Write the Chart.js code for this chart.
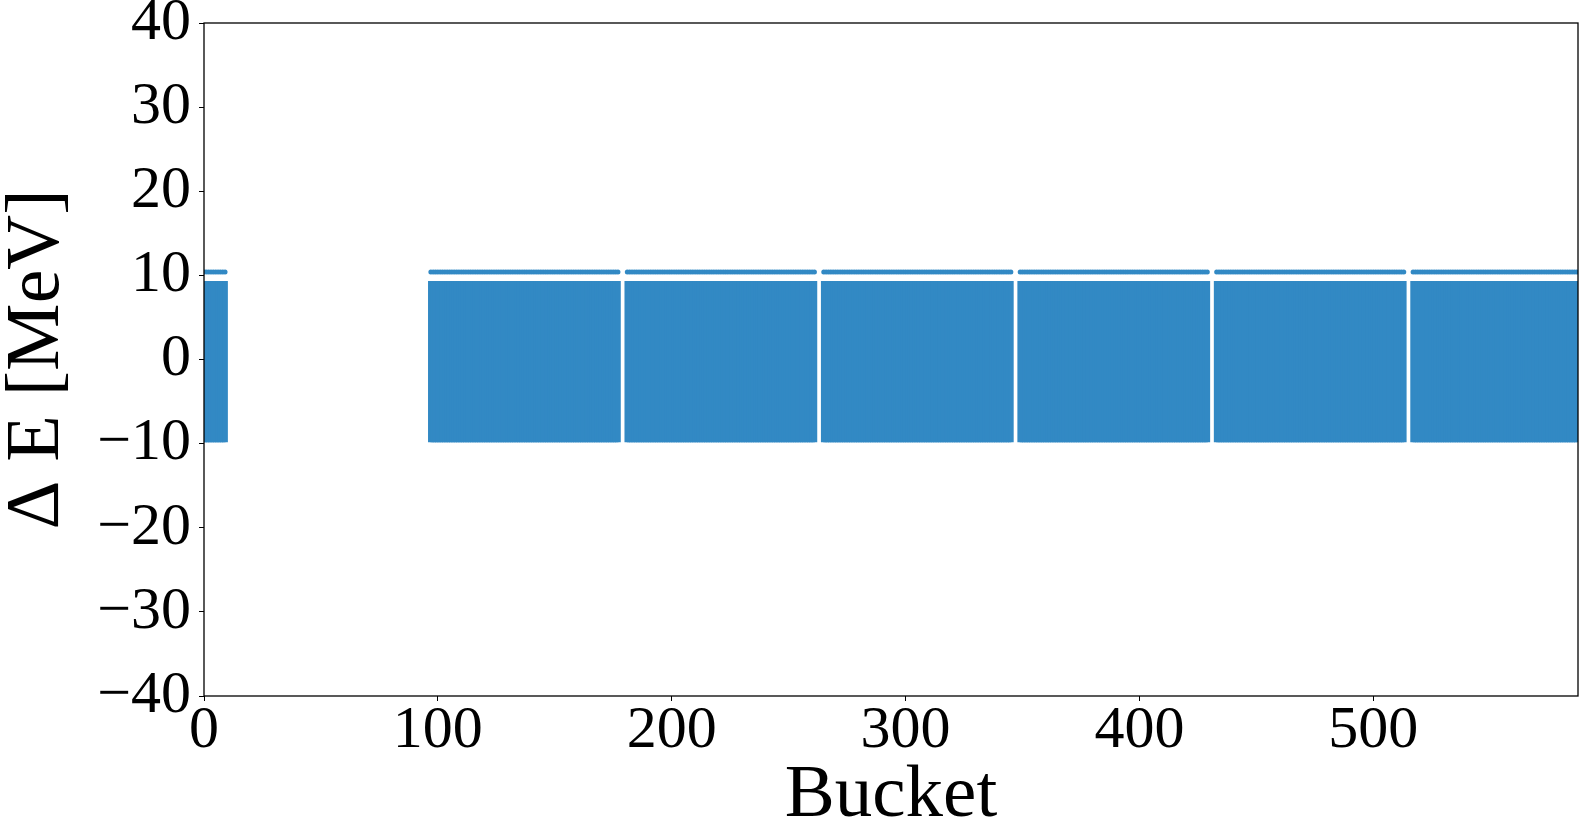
<!DOCTYPE html>
<html>
<head>
<meta charset="utf-8">
<script src="https://cdn.jsdelivr.net/npm/chart.js@4.4.1/dist/chart.umd.min.js"></script>
<style>
  html, body { margin: 0; padding: 0; background: #ffffff; }
  #wrap { width: 1582px; height: 827px; position: relative; }
</style>
</head>
<body>
<div id="wrap"><canvas id="chart"></canvas></div>
<script>
// Filled bucket trains: first and last bucket of each train
const blockFirst = [0, 97, 181, 265, 349, 433, 517];
const blockLast  = [9, 177, 261, 345, 429, 513, 587];
// Energy spread envelope of each train [MeV]
const blockLow   = [-9.8, -9.8, -9.8, -9.8, -9.8, -9.8, -9.8];
const blockHigh  = [9.3, 9.3, 9.3, 9.3, 9.3, 9.3, 9.3];
// Separate offset line seen above the main spread [MeV]
const bandE      = [10.4, 10.4, 10.4, 10.4, 10.4, 10.4, 10.4];

// Axis limits and tick labels
const xMin = 0, xMax = 587.5, xStep = 100;
const yMin = -40, yMax = 40, yStep = 10;

const BLUE = '#3289c4';
const FONT = "'Liberation Serif', 'Times New Roman', serif";

// One floating bar per filled bucket for the spread, one point per bucket for the offset line
const spreadData = [];
const bandData = [];
blockFirst.forEach((first, i) => {
  for (let b = first; b <= blockLast[i]; b++) {
    spreadData.push({ x: b, y: [blockLow[i], blockHigh[i]] });
    bandData.push({ x: b, y: bandE[i] });
  }
});

// Closed box around the plotting area
const frame = {
  id: 'frame',
  afterDatasetsDraw(chart) {
    const { ctx, chartArea: a } = chart;
    ctx.save();
    ctx.strokeStyle = '#000';
    ctx.lineWidth = 1.3;
    ctx.strokeRect(a.left, a.top, a.right - a.left, a.bottom - a.top);
    ctx.restore();
  }
};

const minus = v => String(v).replace('-', '\u2212');

new Chart(document.getElementById('chart'), {
  type: 'scatter',
  data: {
    datasets: [
      {
        type: 'bar',
        data: spreadData,
        backgroundColor: BLUE,
        borderWidth: 0,
        barThickness: 5,
        clip: 0
      },
      {
        type: 'scatter',
        data: bandData,
        backgroundColor: BLUE,
        borderWidth: 0,
        pointRadius: 2.5,
        clip: 0
      }
    ]
  },
  options: {
    responsive: true,
    maintainAspectRatio: false,
    animation: false,
    events: [],
    layout: { padding: { top: 21, right: 1, left: 0, bottom: 0 } },
    plugins: { legend: { display: false }, tooltip: { enabled: false } },
    scales: {
      x: {
        type: 'linear',
        min: xMin, max: xMax,
        offset: false,
        grid: { display: true, drawOnChartArea: false, drawTicks: true, tickLength: 5, tickColor: '#000', offset: false },
        border: { display: false },
        ticks: {
          stepSize: xStep, includeBounds: false, color: '#000', padding: 0,
          maxRotation: 0, autoSkip: false,
          font: { family: FONT, size: 60, lineHeight: 1 },
          callback: minus
        },
        title: {
          display: true, text: 'Bucket', color: '#000',
          font: { family: FONT, size: 75, lineHeight: 0.8 },
          padding: { top: 0, bottom: 0.6 }
        },
        afterFit(scale) { scale.height = 131; }
      },
      y: {
        type: 'linear',
        min: yMin, max: yMax,
        grid: { display: true, drawOnChartArea: false, drawTicks: true, tickLength: 5, tickColor: '#000' },
        border: { display: false },
        ticks: {
          stepSize: yStep, color: '#000', padding: 8,
          font: { family: FONT, size: 60, lineHeight: 0.5 },
          callback: minus
        },
        title: {
          display: true, text: '\u0394 E [MeV]', color: '#000',
          font: { family: FONT, size: 76, lineHeight: 1 },
          padding: { top: 0, bottom: 0 }
        },
        afterFit(scale) { scale.width = 204; }
      }
    }
  },
  plugins: [frame]
});
</script>
</body>
</html>
